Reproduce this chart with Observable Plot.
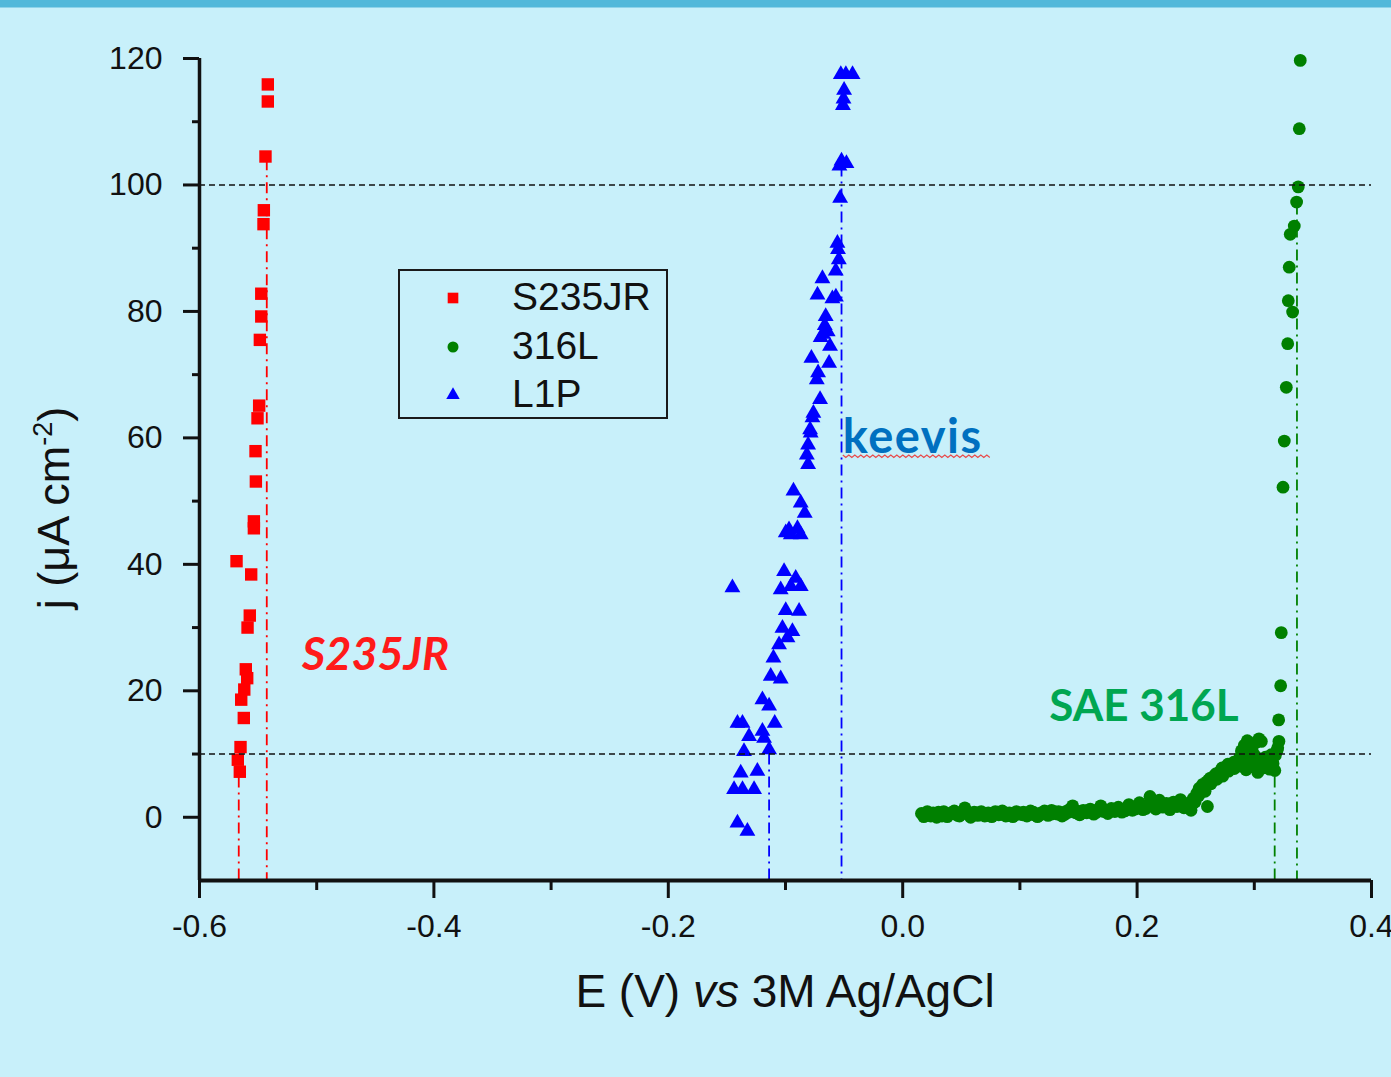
<!DOCTYPE html>
<html><head><meta charset="utf-8">
<script src="https://cdn.jsdelivr.net/npm/d3@7"></script>
<script src="https://cdn.jsdelivr.net/npm/@observablehq/plot@0.6"></script>
<style>
html,body{margin:0;padding:0;background:#C8F0FA;width:1391px;height:1077px;overflow:hidden;font-family:"Liberation Sans",Arial,sans-serif}
#band{position:absolute;left:0;top:0;width:1391px;height:7px;background:#52B8DA;border-bottom:1px solid #8ED3EA}
#chart{position:absolute;left:0;top:8px}
#legend{position:absolute;left:398px;top:269px;width:266px;height:146px;border:2px solid #1a1a1a}
#legend .row{position:absolute;left:0;height:40px;width:266px}
#legend .row svg{position:absolute;left:43px;top:10px}
#legend .row span{position:absolute;left:112px;top:-3px;font-size:39px;color:#111;line-height:44px}
</style></head>
<body>
<div id="band"></div>
<div id="chart"></div>
<div id="legend"></div>
<script>
// ---------- data (E in V vs 3M Ag/AgCl, j in µA cm^-2) ----------
const seriesNames = ["S235JR", "316L", "L1P"];
const seriesColors = ["#FF0000", "#008000", "#0000FF"];

const redPts = [
  [-0.5417,115.9],[-0.5417,113.2],[-0.5437,104.5],[-0.5451,96.0],[-0.5454,93.8],
  [-0.5473,82.8],[-0.5473,79.2],[-0.5485,75.5],[-0.5491,65.1],[-0.5505,63.1],
  [-0.5522,57.9],[-0.5519,53.1],[-0.5536,46.8],[-0.5536,45.7],[-0.5684,40.5],
  [-0.5559,38.4],[-0.5571,31.9],[-0.5590,30.0],[-0.5605,23.4],[-0.5593,22.0],
  [-0.5618,20.2],[-0.5644,18.6],[-0.5622,15.7],[-0.5650,11.1],[-0.5673,9.1],[-0.5656,7.2]
];

const bluePts = [
  [-0.0528,117.5],[-0.0485,117.5],[-0.0428,117.5],
  [-0.0500,115.0],[-0.0505,113.6],[-0.0510,112.6],
  [-0.0522,103.8],[-0.0480,103.4],[-0.0540,103.0],
  [-0.0534,97.9],
  [-0.0557,90.8],[-0.0552,89.8],[-0.0545,88.2],[-0.0571,86.4],
  [-0.0685,85.2],[-0.0727,82.6],[-0.0600,82.0],[-0.0570,82.3],
  [-0.0657,79.2],[-0.0665,77.8],[-0.0680,76.4],[-0.0640,76.8],[-0.0700,75.9],
  [-0.0620,74.5],[-0.0779,72.6],[-0.0628,71.8],[-0.0722,70.3],[-0.0733,69.2],
  [-0.0705,66.1],[-0.0762,63.9],[-0.0770,63.2],[-0.0790,61.3],[-0.0785,60.8],
  [-0.0807,58.9],[-0.0818,57.3],[-0.0807,55.8],
  [-0.0932,51.6],[-0.0870,49.7],[-0.0836,48.1],
  [-0.0970,45.5],[-0.0898,45.7],[-0.0870,44.7],[-0.0955,44.7],[-0.0998,45.0],
  [-0.1453,36.3],
  [-0.1012,38.9],[-0.0913,37.8],[-0.0955,36.5],[-0.0870,36.5],[-0.1041,36.0],
  [-0.0998,32.7],[-0.0884,32.6],
  [-0.1026,29.9],[-0.0941,29.4],[-0.0983,28.4],[-0.1055,27.3],
  [-0.1103,25.2],[-0.1126,22.3],[-0.1041,21.9],
  [-0.1197,18.6],[-0.1140,17.6],
  [-0.1092,14.9],[-0.1410,14.9],[-0.1367,14.9],
  [-0.1311,12.8],[-0.1197,13.6],[-0.1183,12.5],
  [-0.1354,10.4],[-0.1140,10.7],
  [-0.1382,7.0],[-0.1240,7.3],
  [-0.1439,4.4],[-0.1367,4.4],[-0.1268,4.4],
  [-0.1410,-0.9],[-0.1325,-2.2]
];

const greenPts = [
  [0.016,0.6],[0.018,0.1],[0.021,0.9],[0.024,0.2],[0.026,0.7],[0.029,0.0],[0.032,0.5],[0.035,0.9],
  [0.038,0.1],[0.041,0.6],[0.044,1.0],[0.047,0.3],[0.050,0.8],[0.053,1.5],[0.056,0.5],[0.058,0.0],
  [0.061,0.8],[0.064,0.3],[0.067,0.9],[0.070,0.2],[0.073,0.7],[0.076,0.1],[0.079,0.9],[0.082,0.4],
  [0.085,1.0],[0.088,0.2],[0.091,0.7],[0.094,0.1],[0.097,0.9],[0.100,0.5],[0.103,0.8],[0.106,0.2],
  [0.109,1.0],[0.112,0.4],[0.115,0.1],[0.118,0.7],[0.121,1.0],[0.124,0.3],[0.127,1.1],[0.130,0.6],
  [0.133,0.9],[0.136,0.2],[0.139,0.9],[0.142,1.2],[0.145,1.8],[0.148,1.0],[0.151,0.4],[0.154,1.1],
  [0.157,0.7],[0.160,1.3],[0.163,0.5],[0.166,1.0],[0.169,1.8],[0.172,1.2],[0.175,0.6],[0.178,1.4],
  [0.181,0.9],[0.184,1.6],[0.187,0.8],[0.190,1.3],[0.193,2.0],[0.196,1.1],[0.199,1.6],[0.202,2.3],
  [0.205,1.2],[0.208,1.8],[0.211,3.3],[0.213,2.1],[0.216,1.3],[0.219,2.7],[0.222,1.6],[0.225,2.2],
  [0.228,1.2],[0.231,2.4],[0.234,1.7],[0.237,2.8],[0.240,1.5],[0.243,2.2],[0.246,1.1],[0.248,3.0],
  [0.251,3.8],[0.253,4.6],[0.256,5.2],[0.258,4.1],[0.260,1.7],[0.261,5.9],[0.263,5.3],[0.266,6.6],
  [0.268,6.0],[0.271,7.2],[0.273,6.5],[0.276,8.0],[0.278,7.3],[0.281,8.4],[0.283,7.7],[0.286,8.9],
  [0.288,8.1],[0.291,9.2],[0.293,7.5],[0.296,8.7],[0.298,9.5],[0.301,8.3],[0.303,7.1],[0.306,9.0],
  [0.308,7.9],[0.311,9.3],[0.313,7.6],[0.316,8.5],[0.318,9.8],[0.294,12.1],[0.298,11.0],[0.304,12.4],
  [0.321,12.0],[0.320,11.0],
  [0.3208,15.4],[0.3225,20.8],[0.3230,29.2],[0.3245,52.2],[0.3256,59.5],[0.3273,68.0],[0.3285,74.9],
  [0.3327,79.9],[0.3290,81.7],[0.3298,87.0],[0.3307,92.2],[0.3341,93.5],[0.3361,97.3],[0.3375,99.7],
  [0.3384,108.9],[0.3392,119.7]
];
// second scan row
const greenPts2 = [
  [0.0195,0.4],[0.0225,0.6],[0.0275,0.3],[0.0305,0.8],[0.0335,0.2],[0.0365,0.6],[0.0395,0.4],[0.0425,0.8],
  [0.0455,0.5],[0.0485,0.2],[0.0515,0.6],[0.0545,1.0],[0.0575,0.4],[0.0605,0.5],[0.0635,0.7],[0.0665,0.4],
  [0.0695,0.6],[0.0725,0.3],[0.0755,0.5],[0.0785,0.6],[0.0815,0.8],[0.0845,0.5],[0.0875,0.7],[0.0905,0.3],
  [0.0935,0.6],[0.0965,0.4],[0.0995,0.7],[0.1025,0.4],[0.1055,0.6],[0.1085,0.7],[0.1115,0.8],[0.1145,0.5],
  [0.1175,0.4],[0.1205,0.6],[0.1235,0.7],[0.1265,0.5],[0.1295,0.9],[0.1325,0.5],[0.1355,0.7],[0.1385,0.5],
  [0.1415,0.8],[0.1445,1.1],[0.1475,0.7],[0.1505,0.9],[0.1535,0.7],[0.1565,1.0],[0.1595,0.9],[0.1625,1.1],
  [0.1655,0.8],[0.1685,1.2],[0.1715,0.9],[0.1745,1.1],[0.1775,1.0],[0.1805,1.3],[0.1835,1.1],[0.1865,1.2],
  [0.1895,1.0],[0.1925,1.4],[0.1955,1.5],[0.1985,1.3],[0.2015,1.6],[0.2045,1.7],[0.2075,1.4],[0.2105,2.0],
  [0.2145,1.8],[0.2175,1.9],[0.2205,2.1],[0.2235,1.7],[0.2265,2.0],[0.2295,1.8],[0.2325,2.0],[0.2355,2.2],
  [0.2385,1.9],[0.2415,1.8],[0.2445,2.0],[0.2475,2.2],
  [0.2495,2.4],[0.2525,3.4],[0.2545,4.0],[0.2575,4.8],[0.2595,5.6],[0.2625,6.2],[0.2645,5.8],[0.2675,6.9],
  [0.2695,7.0],[0.2725,7.8],[0.2745,7.1],[0.2775,8.4],[0.2795,8.0],[0.2825,8.7],[0.2845,8.2],[0.2875,9.4],
  [0.2895,8.6],[0.2925,8.9],[0.2945,9.6],[0.2975,8.0],[0.2995,10.0],[0.3025,9.4],[0.3045,8.6],[0.3075,7.8],
  [0.3095,9.5],[0.3125,8.4],[0.3145,9.9],[0.3175,7.4],[0.3195,10.6],[0.2890,10.5],[0.2915,11.4],[0.3010,11.8],
  [0.3060,12.0]
];

// reference potentials (vertical dash-dot lines): [E, top j]
const redRefs = [[-0.5665,10],[-0.5426,104]];
const blueRefs = [[-0.1140,10],[-0.0522,103]];
const greenRefs = [[0.3174,10],[0.3364,97]];
const hLevels = [100, 10];

// axis ticks
const xMajor = [-0.6,-0.4,-0.2,0,0.2,0.4];
const xMinor = [-0.5,-0.3,-0.1,0.1,0.3];
const yMajor = [0,20,40,60,80,100,120];
const yMinor = [10,30,50,70,90,110];

// annotations: [label, E, j]
const annS235 = ["S235JR", -0.4498, 25.5];
const annSAE = ["SAE 316L", 0.2058, 17.4];
const annKeevis = ["keevis", -0.0511, 60.0];

// ---------- build ----------
const toObj = ([E, j]) => ({E, j});
const red = redPts.map(toObj), green = greenPts.concat(greenPts2).map(toObj), blue = bluePts.map(toObj);
const refObj = ([E, top]) => ({E, top});

const FONT = '"Liberation Sans", Arial, sans-serif';
const ANN = 'Lato, "Noto Sans", sans-serif';
const vline = (refs, color) => Plot.ruleX(refs.map(refObj), {x: "E", y1: "top", y2: -10, stroke: color, strokeWidth: 1.8, strokeDasharray: "11,5,2,5"});
const ann = (a, color, opts) => Plot.text([{label: a[0], E: a[1], j: a[2]}], {x: "E", y: "j", text: "label", fill: color, fontSize: 44, fontWeight: "bold", fontFamily: ANN, ...opts});

const chart = Plot.plot({
  width: 1391, height: 1069,
  marginLeft: 199, marginRight: 20, marginTop: 50, marginBottom: 197,
  style: {background: "transparent", fontFamily: FONT, color: "#111", overflow: "visible"},
  x: {domain: [-0.6, 0.4]},
  y: {domain: [-10, 120]},
  marks: [
    vline(redRefs, seriesColors[0]),
    vline(blueRefs, seriesColors[2]),
    vline(greenRefs, seriesColors[1]),
    Plot.dot(green, {x: "E", y: "j", symbol: "circle", r: 6.4, fill: seriesColors[1]}),
    Plot.dot(blue, {x: "E", y: "j", symbol: "triangle", r: 5.9, fill: seriesColors[2]}),
    Plot.dot(red, {x: "E", y: "j", symbol: "square", r: 7.0, fill: seriesColors[0]}),
    Plot.ruleY(hLevels, {stroke: "#111", strokeWidth: 1.6, strokeDasharray: "6,4"}),
    Plot.axisX({ticks: xMajor, tickSize: 18, tickPadding: 16, fontSize: 32, strokeWidth: 3, tickFormat: d => d.toFixed(1), label: null, fill: "#111"}),
    Plot.axisX({ticks: xMinor, tickSize: 10, tickFormat: () => "", label: null, strokeWidth: 3}),
    Plot.axisY({ticks: yMajor, tickSize: 16, tickPadding: 21, fontSize: 32, strokeWidth: 3, label: null, fill: "#111"}),
    Plot.axisY({ticks: yMinor, tickSize: 7, tickFormat: () => "", label: null, strokeWidth: 3}),
    Plot.ruleX([-0.6], {stroke: "#111", strokeWidth: 3.5}),
    Plot.ruleY([-10], {stroke: "#111", strokeWidth: 4}),
    ann(annS235, "#FF1A1A", {fontStyle: "italic", fontSize: 45}),
    ann(annSAE, "#00A651", {}),
    ann(annKeevis, "#0070C0", {textAnchor: "start", fontSize: 47, className: "keevis"})
  ]
});
document.getElementById("chart").appendChild(chart);

const svg = d3.select(chart);
svg.select("g.keevis").style("letter-spacing", "1.5px");
// axis titles
const xt = svg.append("text").attr("x", 785).attr("y", 999).attr("text-anchor", "middle")
  .attr("font-family", FONT).attr("font-size", 46).attr("fill", "#111");
xt.append("tspan").text("E (V) ");
xt.append("tspan").attr("font-style", "italic").text("vs");
xt.append("tspan").text(" 3M Ag/AgCl");

const yt = svg.append("text").attr("transform", "translate(69,500) rotate(-90)").attr("text-anchor", "middle")
  .attr("font-family", FONT).attr("font-size", 45).attr("fill", "#111");
yt.append("tspan").text("j (μA cm");
yt.append("tspan").attr("font-size", 27).attr("dy", -17).text("-2");
yt.append("tspan").attr("dy", 17).text(")");

// spell-check style wavy underline under "keevis"
const kt = svg.select("g.keevis text").node();
if (kt) {
  const r = kt.getBoundingClientRect(), s = chart.getBoundingClientRect();
  const x0 = r.left - s.left, x1 = r.right - s.left + 6, y0 = r.bottom - s.top - 8;
  let d = `M${x0},${y0}`;
  for (let xx = x0, k = 0; xx < x1; xx += 3, k++) d += `L${xx + 3},${y0 + (k % 2 ? 0 : 2.5)}`;
  svg.append("path").attr("d", d).attr("fill", "none").attr("stroke", "#E84B4B").attr("stroke-width", 1.2);
}

// legend
const legend = d3.select("#legend");
const shapes = [[d3.symbolSquare, Math.PI * 6 * 6], [d3.symbolCircle, Math.PI * 5.5 * 5.5], [d3.symbolTriangle, Math.PI * 5 * 5]];
const rowTops = [7, 56, 104];
seriesNames.forEach((name, i) => {
  const row = legend.append("div").attr("class", "row").style("top", rowTops[i] + "px");
  const s = row.append("svg").attr("width", 20).attr("height", 20);
  s.append("path").attr("transform", "translate(10,10)").attr("d", d3.symbol(shapes[i][0], shapes[i][1])()).attr("fill", seriesColors[i]);
  row.append("span").text(name);
});
</script>
</body></html>
